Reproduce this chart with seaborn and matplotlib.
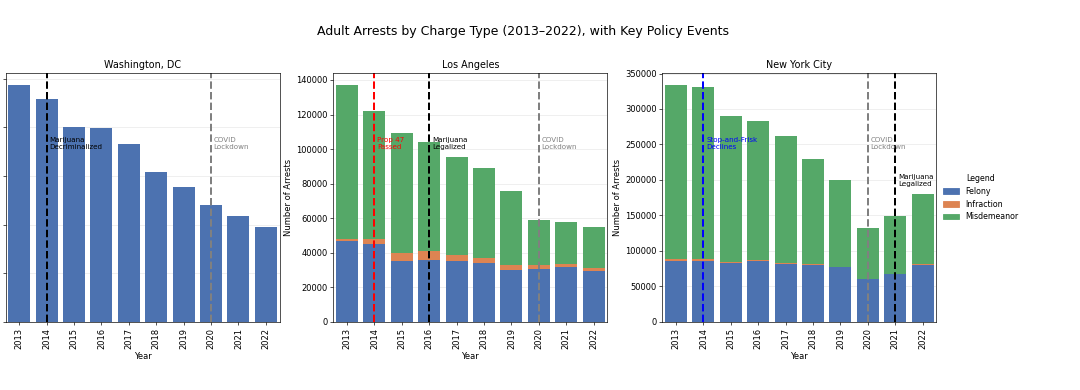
import numpy as np
import pandas as pd
import matplotlib
matplotlib.use("Agg")
import matplotlib.pyplot as plt
import matplotlib.patches as mpatches
import seaborn as sns

years = [2013, 2014, 2015, 2016, 2017, 2018, 2019, 2020, 2021, 2022]

dc_felony = [48700, 45900, 40100, 39800, 36500, 30900, 27800, 24100, 21700, 19400]
dc_infraction = [0, 0, 0, 0, 0, 0, 0, 0, 0, 0]
dc_misdemeanor = [0, 0, 0, 0, 0, 0, 0, 0, 0, 0]

la_felony = [46900, 45000, 35100, 35900, 35100, 33800, 29900, 30500, 31700, 29500]
la_infraction = [1300, 3100, 4900, 5000, 3500, 3300, 2700, 2100, 1700, 1800]
la_misdemeanor = [88800, 73700, 69300, 63100, 56800, 51700, 43300, 26300, 24300, 23500]

ny_felony = [85500, 85500, 82200, 86000, 81800, 80400, 76600, 60100, 67700, 80400]
ny_infraction = [2800, 2800, 2400, 900, 900, 900, 500, 300, 300, 900]
ny_misdemeanor = [245300, 242500, 205800, 196000, 178600, 148000, 122100, 72100, 81000, 98200]

categories = ["Felony", "Infraction", "Misdemeanor"]
colors = {"Felony": "#4C72B0", "Infraction": "#DD8452", "Misdemeanor": "#55A868"}

cities = ["Washington, DC", "Los Angeles", "New York City"]
city_data = {
    "Washington, DC": (dc_felony, dc_infraction, dc_misdemeanor),
    "Los Angeles": (la_felony, la_infraction, la_misdemeanor),
    "New York City": (ny_felony, ny_infraction, ny_misdemeanor),
}

# events: (year, label, color, y position in axes fraction)
events = {
    "Washington, DC": [(2014, "Marijuana\nDecriminalized", "black", 0.745),
                       (2020, "COVID\nLockdown", "gray", 0.745)],
    "Los Angeles": [(2014, "Prop 47\nPassed", "red", 0.745),
                    (2016, "Marijuana\nLegalized", "black", 0.745),
                    (2020, "COVID\nLockdown", "gray", 0.745)],
    "New York City": [(2014, "Stop-and-Frisk\nDeclines", "blue", 0.745),
                      (2020, "COVID\nLockdown", "gray", 0.745),
                      (2021, "Marijuana\nLegalized", "black", 0.595)],
}

fig = plt.figure(figsize=(18, 6.5), dpi=60)
positions = [
    [5.5 / 1080, 0.175, 274 / 1080, 0.637],
    [333.3 / 1080, 0.175, 274 / 1080, 0.637],
    [662.3 / 1080, 0.175, 274 / 1080, 0.637],
]
year_labels = [str(y) for y in years]

for pos, city in zip(positions, cities):
    ax = fig.add_axes(pos)
    fel, inf, mis = city_data[city]
    df = pd.DataFrame({"Year": year_labels, "Felony": fel,
                       "Infraction": inf, "Misdemeanor": mis})
    df["FI"] = df["Felony"] + df["Infraction"]
    df["Total"] = df["FI"] + df["Misdemeanor"]
    sns.barplot(data=df, x="Year", y="Total", color=colors["Misdemeanor"],
                saturation=1, ax=ax, width=0.8)
    sns.barplot(data=df, x="Year", y="FI", color=colors["Infraction"],
                saturation=1, ax=ax, width=0.8)
    sns.barplot(data=df, x="Year", y="Felony", color=colors["Felony"],
                saturation=1, ax=ax, width=0.8)
    ax.set_title(city, fontsize=11.5)
    ax.set_xlabel("Year", fontsize=10)
    ax.tick_params(axis="x", rotation=90)
    if city == "Washington, DC":
        # the reference crops this panel's y tick labels and axis label off the canvas
        ax.set_ylabel("")
        ax.tick_params(axis="y", labelleft=False)
    else:
        ax.set_ylabel("Number of Arrests", fontsize=10)
    ax.grid(axis="y", alpha=0.3)
    ax.set_axisbelow(True)
    trans = ax.get_xaxis_transform()
    for yr, label, col, ypos in events[city]:
        xi = years.index(yr)
        ax.axvline(xi, color=col, linestyle="--", linewidth=2.4)
        ax.text(xi + 0.1, ypos, label, color=col, fontsize=8.5,
                ha="left", va="top", transform=trans)
    if city == "New York City":
        handles = [mpatches.Patch(color=colors[c], label=c) for c in categories]
        ax.legend(handles=handles, title="Legend", loc="center left",
                  bbox_to_anchor=(1.0, 0.5), frameon=False, fontsize=9.5,
                  title_fontsize=9.5)

fig.suptitle("Adult Arrests by Charge Type (2013\u20132022), with Key Policy Events",
             x=523 / 1080, y=0.935, fontsize=15)

fig.savefig("out.png", dpi=60)
